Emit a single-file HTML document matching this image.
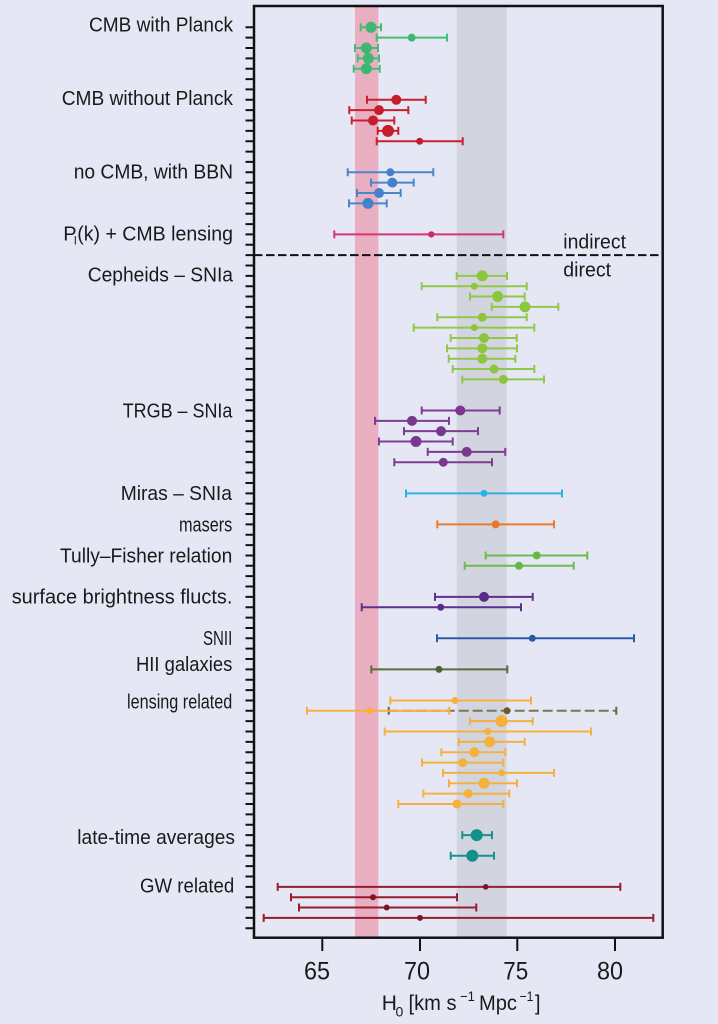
<!DOCTYPE html>
<html>
<head>
<meta charset="utf-8">
<style>
  html,body{margin:0;padding:0;background:#e5e8f4;}
  svg{display:block;}
  text{font-family:"Liberation Sans Narrow","Liberation Sans",sans-serif;fill:#1a1a1a;}
</style>
</head>
<body>
<svg width="718" height="1024" viewBox="0 0 718 1024" xmlns="http://www.w3.org/2000/svg">
  <rect x="0" y="0" width="718" height="1024" fill="#e5e8f4"/>

  <!-- bands -->
  <rect x="355" y="6" width="23.3" height="932" fill="#e9afc1"/>
  <rect x="456.7" y="6" width="50" height="932" fill="#d2d5df"/>

  <!-- divider -->
  <line x1="254" y1="255.1" x2="662.7" y2="255.1" stroke="#111" stroke-width="2" stroke-dasharray="8.5 3.5"/>
  <text x="563.3" y="248.3" font-size="20" textLength="62.7" lengthAdjust="spacingAndGlyphs">indirect</text>
  <text x="563.3" y="276.7" font-size="20" textLength="47.7" lengthAdjust="spacingAndGlyphs">direct</text>

  <!-- CMB with Planck -->
  <g stroke="#45bd78" stroke-width="2" fill="none">
    <path d="M360.7,27.3H381M360.7,23.3V31.3M381,23.3V31.3"/>
    <path d="M376.7,37.66H447M376.7,33.66V41.66M447,33.66V41.66"/>
    <path d="M355,48.01H378M355,44.01V52.01M378,44.01V52.01"/>
    <path d="M357.7,58.37H379M357.7,54.37V62.37M379,54.37V62.37"/>
    <path d="M353.7,68.72H379.7M353.7,64.72V72.72M379.7,64.72V72.72"/>
  </g>
  <g fill="#3db870">
    <circle cx="371" cy="27.3" r="5.5"/>
    <circle cx="411.7" cy="37.66" r="4"/>
    <circle cx="366.3" cy="48.01" r="5.5"/>
    <circle cx="368.3" cy="58.37" r="5.5"/>
    <circle cx="366.3" cy="68.72" r="5.5"/>
  </g>

  <!-- CMB without Planck -->
  <g stroke="#c8202f" stroke-width="2" fill="none">
    <path d="M367,99.79H425.7M367,95.79V103.79M425.7,95.79V103.79"/>
    <path d="M349.3,110.15H408.3M349.3,106.15V114.15M408.3,106.15V114.15"/>
    <path d="M351.7,120.5H394.3M351.7,116.5V124.5M394.3,116.5V124.5"/>
    <path d="M377.7,130.86H398.3M377.7,126.86V134.86M398.3,126.86V134.86"/>
    <path d="M376.7,141.22H462.7M376.7,137.22V145.22M462.7,137.22V145.22"/>
  </g>
  <g fill="#c41d2d">
    <circle cx="396.3" cy="99.79" r="5"/>
    <circle cx="379" cy="110.15" r="5"/>
    <circle cx="373" cy="120.5" r="5"/>
    <circle cx="388" cy="130.86" r="6"/>
    <circle cx="419.7" cy="141.22" r="3.5"/>
  </g>

  <!-- no CMB with BBN -->
  <g stroke="#4a86c8" stroke-width="2" fill="none">
    <path d="M347.7,172.28H433.3M347.7,168.28V176.28M433.3,168.28V176.28"/>
    <path d="M371,182.64H413.7M371,178.64V186.64M413.7,178.64V186.64"/>
    <path d="M357,193H400.7M357,189V197M400.7,189V197"/>
    <path d="M349,203.35H386.7M349,199.35V207.35M386.7,199.35V207.35"/>
  </g>
  <g fill="#4382c8">
    <circle cx="390.3" cy="172.28" r="4"/>
    <circle cx="392.3" cy="182.64" r="5"/>
    <circle cx="379" cy="193" r="5"/>
    <circle cx="368" cy="203.35" r="5.5"/>
  </g>

  <!-- P(k) + CMB lensing -->
  <path d="M334.3,234.42H503.3M334.3,230.42V238.42M503.3,230.42V238.42" stroke="#d9327a" stroke-width="2" fill="none"/>
  <circle cx="431.3" cy="234.42" r="3.2" fill="#d02a6e"/>

  <!-- Cepheids -->
  <g stroke="#92c84a" stroke-width="2" fill="none">
    <path d="M456.7,275.84H507M456.7,271.84V279.84M507,271.84V279.84"/>
    <path d="M421.7,286.2H526.7M421.7,282.2V290.2M526.7,282.2V290.2"/>
    <path d="M470,296.56H524.7M470,292.56V300.56M524.7,292.56V300.56"/>
    <path d="M491.7,306.91H558.3M491.7,302.91V310.91M558.3,302.91V310.91"/>
    <path d="M437.3,317.27H526.7M437.3,313.27V321.27M526.7,313.27V321.27"/>
    <path d="M413.7,327.62H534.3M413.7,323.62V331.62M534.3,323.62V331.62"/>
    <path d="M450.7,337.98H516.7M450.7,333.98V341.98M516.7,333.98V341.98"/>
    <path d="M447,348.34H517M447,344.34V352.34M517,344.34V352.34"/>
    <path d="M448.7,358.69H515.3M448.7,354.69V362.69M515.3,354.69V362.69"/>
    <path d="M452.7,369.05H534.3M452.7,365.05V373.05M534.3,365.05V373.05"/>
    <path d="M462.3,379.4H544M462.3,375.4V383.4M544,375.4V383.4"/>
  </g>
  <g fill="#8cc63f">
    <circle cx="482.3" cy="275.84" r="5.5"/>
    <circle cx="474.3" cy="286.2" r="3.5"/>
    <circle cx="497.7" cy="296.56" r="5.5"/>
    <circle cx="525" cy="306.91" r="5.5"/>
    <circle cx="482.3" cy="317.27" r="4.5"/>
    <circle cx="474.3" cy="327.62" r="3.5"/>
    <circle cx="484" cy="337.98" r="5"/>
    <circle cx="482.3" cy="348.34" r="5"/>
    <circle cx="482.3" cy="358.69" r="5"/>
    <circle cx="494" cy="369.05" r="4.5"/>
    <circle cx="503.3" cy="379.4" r="4.5"/>
  </g>

  <!-- TRGB -->
  <g stroke="#7d3d90" stroke-width="2" fill="none">
    <path d="M421.7,410.47H499.7M421.7,406.47V414.47M499.7,406.47V414.47"/>
    <path d="M375,420.83H449M375,416.83V424.83M449,416.83V424.83"/>
    <path d="M404,431.18H478M404,427.18V435.18M478,427.18V435.18"/>
    <path d="M379,441.54H452.7M379,437.54V445.54M452.7,437.54V445.54"/>
    <path d="M427.7,451.9H505.3M427.7,447.9V455.9M505.3,447.9V455.9"/>
    <path d="M394.3,462.25H492M394.3,458.25V466.25M492,458.25V466.25"/>
  </g>
  <g fill="#7a378e">
    <circle cx="460.3" cy="410.47" r="5"/>
    <circle cx="412" cy="420.83" r="5"/>
    <circle cx="441" cy="431.18" r="5"/>
    <circle cx="416" cy="441.54" r="5.5"/>
    <circle cx="466.7" cy="451.9" r="5"/>
    <circle cx="443.3" cy="462.25" r="4.5"/>
  </g>

  <!-- Miras -->
  <path d="M406,493.32H562M406,489.32V497.32M562,489.32V497.32" stroke="#2ab4e6" stroke-width="2" fill="none"/>
  <circle cx="484" cy="493.32" r="3.5" fill="#29b2e6"/>

  <!-- masers -->
  <path d="M437.3,524.39H554M437.3,520.39V528.39M554,520.39V528.39" stroke="#ec7a30" stroke-width="2" fill="none"/>
  <circle cx="495.7" cy="524.39" r="4" fill="#ea772c"/>

  <!-- Tully-Fisher -->
  <g stroke="#6fba4e" stroke-width="2" fill="none">
    <path d="M485.7,555.46H587.3M485.7,551.46V559.46M587.3,551.46V559.46"/>
    <path d="M464.7,565.81H573.7M464.7,561.81V569.81M573.7,561.81V569.81"/>
  </g>
  <g fill="#66b844">
    <circle cx="536.7" cy="555.46" r="4"/>
    <circle cx="519" cy="565.81" r="4"/>
  </g>

  <!-- SBF -->
  <g stroke="#5c3090" stroke-width="2" fill="none">
    <path d="M435,596.88H532.7M435,592.88V600.88M532.7,592.88V600.88"/>
    <path d="M361.7,607.24H521M361.7,603.24V611.24M521,603.24V611.24"/>
  </g>
  <g fill="#582c8a">
    <circle cx="484" cy="596.88" r="5"/>
    <circle cx="440.7" cy="607.24" r="3.5"/>
  </g>

  <!-- SNII -->
  <path d="M437,638.3H634M437,634.3V642.3M634,634.3V642.3" stroke="#2c5ba8" stroke-width="2" fill="none"/>
  <circle cx="532.3" cy="638.3" r="3.5" fill="#2a58a6"/>

  <!-- HII -->
  <path d="M371.3,669.37H507.3M371.3,665.37V673.37M507.3,665.37V673.37" stroke="#5a6c40" stroke-width="2" fill="none"/>
  <circle cx="439" cy="669.37" r="3.5" fill="#4f6436"/>

  <!-- lensing related -->
  <path d="M388.7,710.8H616.3" stroke="#7d7748" stroke-width="2" fill="none" stroke-dasharray="10 4"/>
  <path d="M388.7,706.8V714.8M616.3,706.8V714.8" stroke="#6e6534" stroke-width="2" fill="none"/>
  <g stroke="#f5b140" stroke-width="2" fill="none">
    <path d="M390.3,700.44H531M390.3,696.44V704.44M531,696.44V704.44"/>
    <path d="M307,710.8H449.3M307,706.8V714.8M449.3,706.8V714.8"/>
    <path d="M470,721.15H532.7M470,717.15V725.15M532.7,717.15V725.15"/>
    <path d="M384.7,731.51H591M384.7,727.51V735.51M591,727.51V735.51"/>
    <path d="M458.7,741.86H524.7M458.7,737.86V745.86M524.7,737.86V745.86"/>
    <path d="M441.3,752.22H505.3M441.3,748.22V756.22M505.3,748.22V756.22"/>
    <path d="M422,762.58H503.3M422,758.58V766.58M503.3,758.58V766.58"/>
    <path d="M443,772.93H554M443,768.93V776.93M554,768.93V776.93"/>
    <path d="M449,783.29H517M449,779.29V787.29M517,779.29V787.29"/>
    <path d="M423.3,793.64H509.3M423.3,789.64V797.64M509.3,789.64V797.64"/>
    <path d="M398.3,804H503.3M398.3,800V808M503.3,800V808"/>
  </g>
  <g fill="#f6b13d">
    <circle cx="455" cy="700.44" r="3.5"/>
    <circle cx="369.3" cy="710.8" r="3.5"/>
    <circle cx="501.7" cy="721.15" r="6"/>
    <circle cx="487.7" cy="731.51" r="3.5"/>
    <circle cx="489.7" cy="741.86" r="5.5"/>
    <circle cx="474.3" cy="752.22" r="5"/>
    <circle cx="462.7" cy="762.58" r="4.5"/>
    <circle cx="501.7" cy="772.93" r="3.5"/>
    <circle cx="484" cy="783.29" r="5.5"/>
    <circle cx="468.3" cy="793.64" r="4.5"/>
    <circle cx="457" cy="804" r="4.5"/>
  </g>
  <circle cx="507" cy="710.8" r="3.5" fill="#6b5a2a"/>

  <!-- late-time averages -->
  <g stroke="#1a928c" stroke-width="2" fill="none">
    <path d="M462.3,835.07H492M462.3,831.07V839.07M492,831.07V839.07"/>
    <path d="M450.7,855.78H494M450.7,851.78V859.78M494,851.78V859.78"/>
  </g>
  <g fill="#12908a">
    <circle cx="476.7" cy="835.07" r="6"/>
    <circle cx="472.3" cy="855.78" r="6"/>
  </g>

  <!-- GW related -->
  <g stroke="#951d30" stroke-width="2" fill="none">
    <path d="M277.7,886.85H620.3M277.7,882.85V890.85M620.3,882.85V890.85"/>
    <path d="M291,897.2H457M291,893.2V901.2M457,893.2V901.2"/>
    <path d="M299,907.56H476.3M299,903.56V911.56M476.3,903.56V911.56"/>
    <path d="M263.7,917.92H653.3M263.7,913.92V921.92M653.3,913.92V921.92"/>
  </g>
  <g fill="#7e1424">
    <circle cx="485.7" cy="886.85" r="2.8"/>
    <circle cx="373" cy="897.2" r="3"/>
    <circle cx="386.7" cy="907.56" r="3"/>
    <circle cx="420" cy="917.92" r="3"/>
  </g>

  <!-- left ticks -->
  <line x1="249.75" y1="26.3" x2="249.75" y2="930" stroke="#111" stroke-width="8.5" stroke-dasharray="2 8.356"/>

  <!-- spines -->
  <rect x="254" y="6" width="408.7" height="931.7" fill="none" stroke="#111" stroke-width="2.5"/>

  <!-- x ticks -->
  <g stroke="#111" stroke-width="2">
    <line x1="322.3" y1="938" x2="322.3" y2="951"/>
    <line x1="420" y1="938" x2="420" y2="951"/>
    <line x1="517.3" y1="938" x2="517.3" y2="951"/>
    <line x1="615" y1="938" x2="615" y2="951"/>
  </g>
  <g font-size="25">
    <text x="304" y="979.5" textLength="26" lengthAdjust="spacingAndGlyphs">65</text>
    <text x="404" y="979.5" textLength="26" lengthAdjust="spacingAndGlyphs">70</text>
    <text x="503.3" y="979.5" textLength="25" lengthAdjust="spacingAndGlyphs">75</text>
    <text x="597" y="979.5" textLength="26" lengthAdjust="spacingAndGlyphs">80</text>
  </g>

  <!-- x label -->
  <text x="381.7" y="1010" font-size="21">H</text>
  <text x="395.5" y="1016.5" font-size="14">0</text>
  <text x="408.5" y="1010" font-size="21" textLength="48" lengthAdjust="spacingAndGlyphs">[km s</text>
  <text x="460" y="1001" font-size="14" textLength="15" lengthAdjust="spacingAndGlyphs">−1</text>
  <text x="479" y="1010" font-size="21" textLength="38" lengthAdjust="spacingAndGlyphs">Mpc</text>
  <text x="519.5" y="1001" font-size="14" textLength="14" lengthAdjust="spacingAndGlyphs">−1</text>
  <text x="535" y="1010" font-size="21" textLength="5.5" lengthAdjust="spacingAndGlyphs">]</text>

  <!-- category labels -->
  <g font-size="20">
    <text x="89" y="31.7" textLength="144" lengthAdjust="spacingAndGlyphs">CMB with Planck</text>
    <text x="61.7" y="105" textLength="171.3" lengthAdjust="spacingAndGlyphs">CMB without Planck</text>
    <text x="73.7" y="178.3" textLength="159.3" lengthAdjust="spacingAndGlyphs">no CMB, with BBN</text>
    <text x="63.3" y="240.7">P</text>
    <text x="74" y="244.5" font-size="12">l</text>
    <text x="77.3" y="240.7" textLength="155.7" lengthAdjust="spacingAndGlyphs">(k) + CMB lensing</text>
    <text x="87.7" y="281.7" textLength="145.3" lengthAdjust="spacingAndGlyphs">Cepheids – SNIa</text>
    <text x="122.7" y="417.3" textLength="109.7" lengthAdjust="spacingAndGlyphs">TRGB – SNIa</text>
    <text x="120.7" y="500" textLength="111.3" lengthAdjust="spacingAndGlyphs">Miras – SNIa</text>
    <text x="179" y="531.7" textLength="53.3" lengthAdjust="spacingAndGlyphs">masers</text>
    <text x="60" y="562.3" textLength="172.3" lengthAdjust="spacingAndGlyphs">Tully–Fisher relation</text>
    <text x="11.7" y="603.3" textLength="220.7" lengthAdjust="spacingAndGlyphs">surface brightness flucts.</text>
    <text x="203" y="645" textLength="29.3" lengthAdjust="spacingAndGlyphs">SNII</text>
    <text x="136" y="671" textLength="96.3" lengthAdjust="spacingAndGlyphs">HII galaxies</text>
    <text x="127" y="708.3" textLength="105.3" lengthAdjust="spacingAndGlyphs">lensing related</text>
    <text x="77.3" y="844" textLength="157.7" lengthAdjust="spacingAndGlyphs">late-time averages</text>
    <text x="140" y="892.3" textLength="94.3" lengthAdjust="spacingAndGlyphs">GW related</text>
  </g>
</svg>
</body>
</html>
